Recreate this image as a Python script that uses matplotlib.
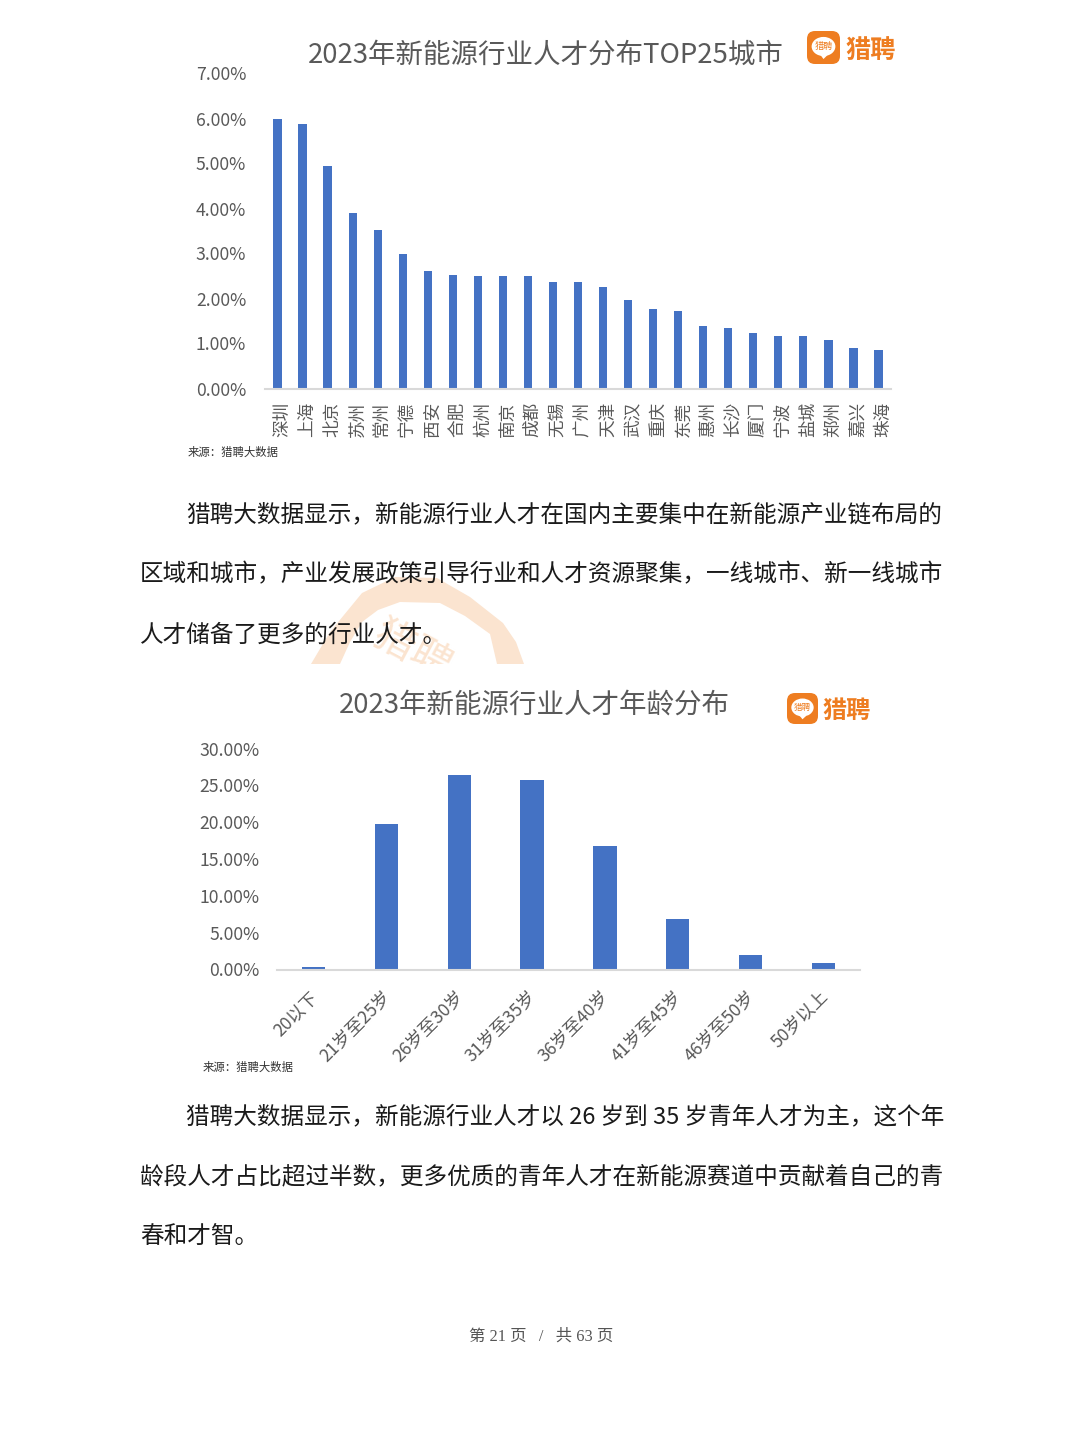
import matplotlib
matplotlib.use("Agg")
import matplotlib.pyplot as plt
from matplotlib.patches import FancyBboxPatch, Polygon, Ellipse, Rectangle
from matplotlib.transforms import ScaledTranslation

plt.rcParams['font.family'] = ['Noto Sans CJK SC', 'DejaVu Sans']

W, H = 1080, 1441
BLUE = '#4472c4'; GREY = '#595959'; AXIS = '#d9d9d9'; ORANGE = '#ee7d21'; BODY = '#1a1a1a'

cities = ['深圳','上海','北京','苏州','常州','宁德','西安','合肥','杭州','南京','成都','无锡','广州',
          '天津','武汉','重庆','东莞','惠州','长沙','厦门','宁波','盐城','郑州','嘉兴','珠海']
city_share = [5.99,5.88,4.95,3.89,3.53,3.00,2.62,2.53,2.51,2.51,2.49,2.37,2.37,
              2.25,1.96,1.76,1.73,1.40,1.34,1.24,1.16,1.16,1.07,0.90,0.86]
city_ticks = [0,1,2,3,4,5,6,7]

ages = ['20以下','21岁至25岁','26岁至30岁','31岁至35岁','36岁至40岁','41岁至45岁','46岁至50岁','50岁以上']
age_share = [0.30,19.8,26.37,25.7,16.8,6.9,2.0,0.95]
age_ticks = [0,5,10,15,20,25,30]

title1 = '2023年新能源行业人才分布TOP25城市'
title2 = '2023年新能源行业人才年龄分布'
source = '来源：猎聘大数据'
brand = '猎聘'
para1 = ['猎聘大数据显示，新能源行业人才在国内主要集中在新能源产业链布局的',
         '区域和城市，产业发展政策引导行业和人才资源聚集，一线城市、新一线城市',
         '人才储备了更多的行业人才。']
para2 = ['猎聘大数据显示，新能源行业人才以 26 岁到 35 岁青年人才为主，这个年',
         '龄段人才占比超过半数，更多优质的青年人才在新能源赛道中贡献着自己的青',
         '春和才智。']
footer = '第 21 页   /   共 63 页'

fig = plt.figure(figsize=(W/100, H/100), dpi=100, facecolor='white')


def shift(dx, dy):
    # offset in image pixels (dy positive = down)
    return ScaledTranslation(dx/100, -dy/100, fig.dpi_scale_trans)


# page overlay in pixel coordinates
pg = fig.add_axes([0, 0, 1, 1], zorder=0)
pg.set_xlim(0, W); pg.set_ylim(H, 0); pg.axis('off')

# watermark arch behind the body text
arch = [(311,664),(330,632),(362,593),(395,577),(437,578),(470,597),(503,623),(516,642),(524,664),
        (497,664),(490,634),(465,616),(440,603),(400,602),(378,610),(362,622),(350,642),(340,664)]
pg.add_patch(Polygon(arch, closed=True, fc='#fbe4d0', ec='none'))
clip = Rectangle((300, 600), 230, 64, transform=pg.transData)
wm = pg.text(412, 652, brand, fontsize=30, color='#fbe4d0', rotation=-28, ha='center', va='center')
wm.set_clip_path(clip)
wm.set_clip_on(True)


def px_axes(l, t, r, b):
    return fig.add_axes([l/W, 1-b/H, (r-l)/W, (b-t)/H], zorder=2, facecolor='none')


def style(ax, ticks):
    for s in ('top', 'left', 'right'):
        ax.spines[s].set_visible(False)
    ax.spines['bottom'].set_color(AXIS)
    ax.spines['bottom'].set_linewidth(1.5)
    ax.set_yticks(ticks)
    ax.set_yticklabels([f'{t:.2f}%' for t in ticks], fontsize=12.7, color=GREY)
    ax.tick_params(axis='both', length=0)
    for lab in ax.get_yticklabels():
        lab.set_transform(lab.get_transform() + shift(0, -2))


# chart 1
ax1 = px_axes(265, 73.5, 891, 388.5)
ax1.bar(range(len(cities)), city_share, width=0.33, color=BLUE)
ax1.set_xlim(-0.5, len(cities)-0.5); ax1.set_ylim(0, 7)
style(ax1, city_ticks)
ax1.tick_params(axis='y', pad=13.5)
ax1.set_xticks(range(len(cities)))
ax1.set_xticklabels(cities, rotation=90, fontsize=12.7, color=GREY, ha='left', va='top', rotation_mode='default')
ax1.tick_params(axis='x', pad=10)
for lab in ax1.get_xticklabels():
    lab.set_transform(lab.get_transform() + shift(-4, -1))

# chart 2
ax2 = px_axes(277, 748.5, 860, 969.5)
ax2.bar(range(len(ages)), age_share, width=0.32, color=BLUE)
ax2.set_xlim(-0.5, len(ages)-0.5); ax2.set_ylim(0, 30)
style(ax2, age_ticks)
ax2.tick_params(axis='y', pad=12.5)
ax2.set_xticks(range(len(ages)))
ax2.set_xticklabels(ages, rotation=45, fontsize=12.7, color=GREY, ha='right', va='top', rotation_mode='anchor')
ax2.tick_params(axis='x', pad=14)
for lab in ax2.get_xticklabels():
    lab.set_transform(lab.get_transform() + shift(-4, -1))

# titles and sources
pg.text(545.5, 55, title1, fontsize=19.8, color=GREY, ha='center', va='center')
pg.text(534.5, 705, title2, fontsize=19.8, color=GREY, ha='center', va='center')
pg.text(188, 452, source, fontsize=8.2, color='#333333', ha='left', va='center')
pg.text(203, 1067, source, fontsize=8.2, color='#333333', ha='left', va='center')


def logo(x, y, s, tx, ty, fs):
    pg.add_patch(FancyBboxPatch((x+4, y+4), s-8, s-8, boxstyle='round,pad=4,rounding_size=8', fc=ORANGE, ec='none'))
    cx, cy = x+s/2, y+s/2-1
    pg.add_patch(Ellipse((cx, cy), s*0.72, s*0.58, fc='white', ec='none'))
    pg.add_patch(Polygon([(cx-3, cy+s*0.26), (cx+4, cy+s*0.26), (cx, cy+s*0.38)], fc='white', ec='none'))
    pg.text(cx, cy, brand, fontsize=s*0.2, color=ORANGE, ha='center', va='center')
    pg.text(tx, ty, brand, fontsize=fs, color=ORANGE, ha='left', va='center', fontweight='bold')


logo(807, 31, 33, 845, 50, 18.2)
logo(787, 693, 31, 823, 711, 17.4)

# body text


def para(lines, y0, size0=17):
    for i, line in enumerate(lines):
        x = 186 if i == 0 else 140
        pg.text(x, y0+60*i, line, fontsize=size0 if i == 0 else 17, color=BODY, ha='left', va='center', zorder=3)


para(para1, 515)
para(para2, 1117, size0=16.98)

pg.text(541, 1337, footer, fontsize=11.8, color='#555555', ha='center', va='center',
        family=['Liberation Serif', 'Noto Sans CJK SC'])

fig.savefig('out.png', dpi=100, facecolor='white')
